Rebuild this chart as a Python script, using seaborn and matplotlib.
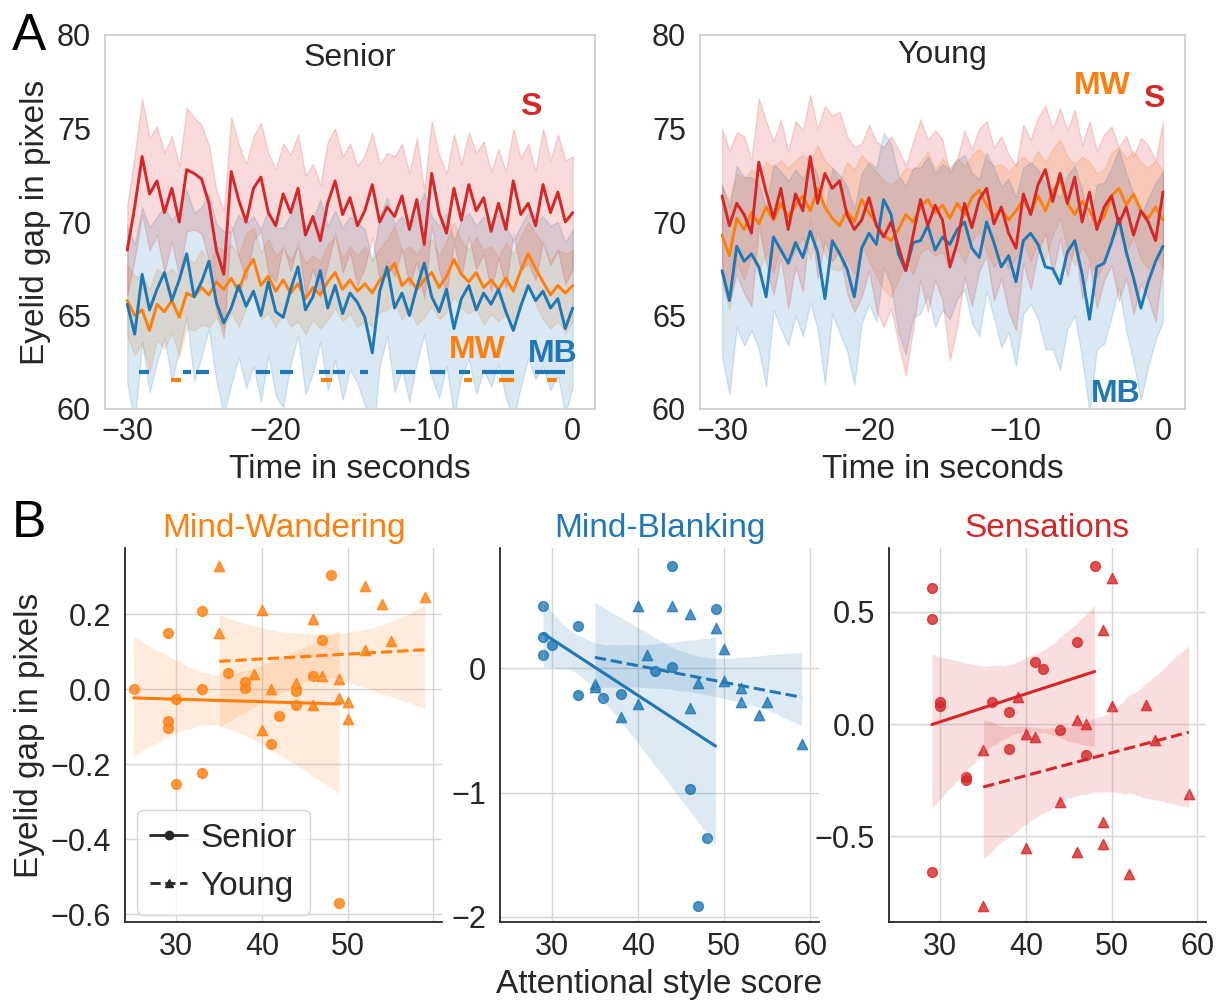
import numpy as np
import matplotlib
matplotlib.use("Agg")
import matplotlib.pyplot as plt
from matplotlib.lines import Line2D
import seaborn as sns

ORANGE = "#ff7f0e"
BLUE = "#1f77b4"
RED = "#d62728"

# ---------------- Panel A data (sampled every 0.5 s from -30 to 0) ----------------
TIME = np.arange(-30.0, 0.001, 0.5)

senior_S_mean = [68.5, 70.8, 73.5, 71.5, 72.2, 70.5, 71.8, 70.0, 72.8, 72.6, 72.3, 71.0, 68.5, 67.2, 72.7,
                 71.2, 70.0, 71.8, 72.4, 70.5, 69.8, 71.5, 70.5, 71.8, 69.3, 70.3, 69.0, 71.0, 72.2, 70.4,
                 71.3, 69.8, 70.6, 72.0, 70.0, 70.8, 70.3, 71.4, 69.6, 71.2, 68.8, 72.6, 70.5, 69.4, 71.8,
                 70.1, 72.0, 70.6, 71.3, 69.5, 71.0, 69.6, 72.2, 70.4, 71.0, 69.8, 72.0, 70.5, 71.6, 70.0, 70.5]
senior_S_hw = [2.4, 2.8, 3.1, 3.0, 2.9, 3.2, 2.8, 3.0, 3.3, 3.0, 2.9, 3.1, 3.2, 3.4, 2.9, 3.0, 3.1, 2.8, 2.9,
               3.2, 3.0, 2.7, 3.1, 2.9, 3.2, 2.8, 3.0, 3.3, 2.8, 3.1, 2.9, 3.2, 3.0, 2.8, 3.1, 2.9, 3.2, 2.8,
               3.0, 3.3, 2.9, 2.8, 3.1, 3.2, 2.9, 3.0, 2.8, 3.1, 3.0, 3.2, 2.9, 3.1, 2.8, 3.0, 3.2, 2.9, 3.0,
               2.8, 3.1, 3.3, 3.0]

senior_MW_mean = [65.8, 65.0, 65.3, 64.2, 65.6, 65.2, 65.8, 64.9, 66.2, 66.0, 66.5, 66.1, 66.8, 66.4, 67.0,
                  66.3, 67.4, 68.0, 66.6, 67.1, 66.3, 66.9, 66.2, 66.7, 65.9, 66.5, 66.1, 66.8, 67.3, 66.4,
                  66.9, 66.3, 66.7, 66.2, 66.9, 67.2, 67.8, 66.6, 67.0, 66.4, 66.9, 67.3, 66.5, 67.1, 68.0,
                  67.2, 66.8, 67.3, 66.5, 66.9, 66.4, 67.0, 66.3, 67.4, 68.3, 67.5, 66.8, 66.1, 66.6, 66.2, 66.6]
senior_MW_hw = [1.9, 2.1, 1.8, 2.2, 1.9, 2.0, 1.7, 2.1, 1.9, 1.8, 2.0, 1.7, 1.9, 2.1, 1.8, 1.9, 2.0, 1.7,
                1.8, 2.0, 1.9, 1.7, 1.8, 2.0, 1.9, 1.7, 1.8, 2.0, 1.9, 1.7, 1.8, 1.9, 2.0, 1.8, 1.7, 1.9,
                2.0, 1.8, 1.7, 1.9, 2.0, 1.8, 1.7, 1.9, 2.0, 1.8, 1.7, 1.9, 2.0, 1.8, 1.7, 1.9, 2.0, 1.8,
                1.7, 1.9, 2.0, 1.8, 1.9, 2.1, 1.9]

senior_MB_mean = [65.6, 64.0, 67.2, 65.3, 66.4, 67.3, 65.8, 66.9, 68.3, 66.0, 66.8, 67.9, 65.7, 64.6, 65.4,
                  66.6, 65.5, 66.3, 65.0, 66.8, 65.2, 64.9, 66.4, 67.6, 65.3, 66.0, 67.4, 65.4, 66.6, 65.1,
                  66.2, 65.7, 64.9, 63.0, 66.3, 67.6, 65.4, 66.2, 65.0, 66.5, 67.8, 66.0, 65.2, 66.4, 64.3,
                  65.9, 66.6, 65.3, 66.2, 65.6, 66.4, 65.2, 64.2, 65.5, 66.6, 65.8, 66.3, 65.4, 65.9, 64.3, 65.4]
senior_MB_hw = [4.2, 4.8, 3.6, 4.4, 3.9, 3.5, 4.3, 3.8, 3.4, 4.5, 4.0, 3.6, 4.2, 4.9, 4.1, 3.8, 4.4, 4.0,
                4.6, 3.9, 4.5, 4.8, 4.0, 3.7, 4.5, 4.1, 3.8, 4.4, 4.0, 4.6, 4.1, 4.3, 4.7, 4.9, 4.0, 3.7,
                4.5, 4.1, 4.6, 4.0, 3.8, 4.3, 4.6, 4.1, 4.7, 4.2, 3.9, 4.5, 4.1, 4.4, 4.0, 4.6, 4.8, 4.3,
                3.9, 4.2, 4.0, 4.4, 4.1, 4.6, 4.2]

young_S_mean = [71.4, 69.8, 71.0, 70.4, 69.4, 73.2, 71.6, 70.2, 71.8, 69.6, 71.5, 70.6, 73.5, 71.0, 72.6,
                71.8, 72.2, 70.4, 69.6, 70.1, 71.3, 69.8, 69.2, 70.0, 68.7, 67.4, 69.3, 71.2, 69.8, 70.9,
                70.1, 67.6, 68.9, 71.0, 69.7, 71.2, 71.8, 69.9, 70.8, 69.4, 68.6, 71.5, 70.4, 72.0, 72.8,
                71.1, 72.6, 71.0, 72.4, 70.0, 71.6, 69.6, 70.8, 71.4, 69.9, 70.8, 69.3, 70.6, 70.0, 69.0, 71.6]
young_S_hw = [3.6, 4.0, 3.8, 4.2, 3.9, 3.4, 3.8, 4.1, 3.7, 4.2, 3.9, 4.3, 3.3, 4.0, 3.6, 3.9, 3.7, 4.2,
              4.4, 4.1, 3.9, 4.5, 4.8, 4.6, 5.2, 5.6, 5.0, 4.3, 4.6, 4.0, 4.3, 5.0, 4.5, 3.9, 4.2, 3.8,
              3.6, 4.1, 3.8, 4.2, 4.4, 3.7, 4.0, 3.6, 3.4, 3.9, 3.5, 3.9, 3.6, 4.1, 3.8, 4.2, 3.9, 3.7,
              4.1, 3.8, 4.2, 3.9, 4.1, 4.3, 3.8]

young_MW_mean = [69.3, 68.2, 70.2, 69.6, 70.5, 69.9, 70.8, 70.1, 71.0, 70.3, 70.9, 71.4, 70.6, 71.8, 70.8,
                 70.2, 69.8, 70.6, 70.0, 71.2, 70.5, 69.9, 69.3, 69.0, 69.6, 70.4, 70.0, 70.8, 71.2, 70.5,
                 70.9, 70.2, 71.0, 70.4, 71.3, 71.7, 70.9, 70.3, 70.7, 70.1, 70.6, 71.2, 70.5, 71.4, 70.6,
                 71.6, 72.3, 71.0, 70.4, 71.1, 70.6, 69.8, 70.3, 71.4, 71.8, 70.9, 71.5, 70.6, 70.2, 70.8, 70.1]
young_MW_hw = [2.6, 2.9, 2.4, 2.7, 2.3, 2.6, 2.4, 2.8, 2.3, 2.6, 2.4, 2.2, 2.6, 2.3, 2.5, 2.7, 2.4, 2.6,
               2.8, 2.4, 2.6, 2.8, 2.9, 3.0, 2.7, 2.5, 2.8, 2.4, 2.6, 2.3, 2.5, 2.7, 2.4, 2.6, 2.3, 2.2,
               2.5, 2.7, 2.4, 2.6, 2.5, 2.3, 2.6, 2.4, 2.6, 2.3, 2.1, 2.5, 2.7, 2.4, 2.6, 2.8, 2.5, 2.3,
               2.2, 2.5, 2.3, 2.6, 2.7, 2.5, 2.6]

young_MB_mean = [67.4, 65.8, 68.7, 67.9, 68.3, 67.6, 66.0, 69.2, 68.5, 67.8, 68.9, 68.1, 69.5, 68.4, 65.9,
                 69.0, 68.3, 67.5, 66.0, 68.6, 69.4, 68.8, 71.2, 70.4, 68.3, 67.4, 68.9, 69.0, 69.8, 68.5,
                 69.2, 68.8, 69.6, 70.0, 68.6, 68.1, 70.0, 68.9, 67.6, 68.2, 66.8, 69.0, 69.4, 68.8, 67.6,
                 67.5, 66.7, 68.4, 69.0, 67.2, 64.8, 67.6, 67.8, 68.9, 70.2, 68.4, 67.0, 65.4, 66.8, 67.9, 68.7]
young_MB_hw = [4.6, 5.0, 4.3, 4.5, 4.1, 4.4, 4.8, 3.9, 4.2, 4.4, 3.9, 4.2, 3.8, 4.1, 4.6, 3.9, 4.2, 4.4,
               4.7, 4.0, 3.8, 4.1, 3.6, 3.8, 4.2, 4.5, 4.0, 3.9, 3.7, 4.1, 3.9, 4.0, 3.7, 3.6, 4.0, 4.2,
               3.7, 4.0, 4.3, 4.1, 4.5, 3.9, 3.8, 4.0, 4.4, 4.3, 4.6, 4.1, 4.0, 4.5, 5.0, 4.4, 4.3, 4.0,
               3.7, 4.2, 4.5, 4.9, 4.5, 4.2, 4.0]

# significance segments (start, end) in seconds, Senior group
sig_MB_senior = [(-29.24, -28.51), (-26.22, -25.70), (-25.36, -24.50), (-21.30, -20.40), (-19.73, -18.83),
                 (-17.07, -16.35), (-16.12, -15.34), (-14.32, -13.76), (-11.89, -10.61), (-9.64, -8.58),
                 (-7.68, -6.89), (-6.11, -3.97), (-2.51, -0.49)]
sig_MW_senior = [(-27.05, -26.38), (-16.92, -16.24), (-7.34, -6.78), (-4.98, -3.97), (-1.72, -1.05)]
SIG_LEVEL_MB = 61.98
SIG_LEVEL_MW = 61.55

# ---------------- Panel B data ----------------
mw_senior_x = [25, 29, 33, 33, 30, 29, 29, 30, 33, 36, 38, 38, 42, 41, 44, 44, 46, 47, 48, 49]
mw_senior_y = [0.00, 0.15, 0.21, 0.00, -0.026, -0.084, -0.102, -0.254, -0.223, 0.044, 0.019, 0.003,
               -0.07, -0.146, -0.004, -0.042, 0.035, 0.132, 0.304, -0.571]
mw_young_x = [35, 35, 40, 39, 41, 40, 44, 46, 46, 47, 49, 49, 50, 50, 52, 52, 54, 55, 59]
mw_young_y = [0.328, 0.15, 0.212, 0.04, 0.0, -0.108, 0.018, 0.187, -0.041, 0.035, 0.028, -0.022,
              -0.033, -0.079, 0.275, 0.104, 0.228, 0.128, 0.247]

mb_senior_x = [29, 29, 30, 29, 33, 33, 36, 38, 42, 44, 44, 46, 48, 47, 49]
mb_senior_y = [0.50, 0.255, 0.188, 0.105, 0.34, -0.214, -0.236, -0.209, -0.021, 0.826, 0.013, -0.97,
               -1.367, -1.91, 0.475]
mb_young_x = [40, 41, 35, 35, 38, 40, 44, 46, 47, 46, 49, 50, 50, 52, 52, 54, 55, 59]
mb_young_y = [0.50, 0.107, -0.126, -0.15, -0.389, -0.287, 0.50, 0.437, -0.115, -0.316, 0.327, 0.155,
              -0.099, -0.155, -0.27, -0.378, -0.268, -0.609]

s_senior_x = [29, 29, 29, 30, 30, 33, 33, 36, 38, 38, 41, 42, 44, 46, 47, 48]
s_senior_y = [0.606, 0.469, -0.659, 0.098, 0.083, -0.236, -0.248, 0.098, 0.053, -0.111, 0.276, 0.245,
              -0.025, 0.365, -0.137, 0.705]
s_young_x = [35, 35, 39, 40, 40, 41, 44, 46, 46, 47, 49, 49, 49, 50, 50, 52, 54, 55, 59]
s_young_y = [-0.114, -0.809, 0.123, -0.045, -0.552, -0.055, -0.347, 0.019, -0.567, 0.0, 0.42, -0.434,
             -0.533, 0.653, 0.079, -0.667, 0.086, -0.07, -0.31]

# ---------------- Style ----------------
sns.set_theme(style="whitegrid")
plt.rcParams["font.family"] = ["Liberation Sans", "DejaVu Sans"]
plt.rcParams["axes.unicode_minus"] = True
TXT = "#262626"

fig = plt.figure(figsize=(12.26, 10.01), dpi=100)
W, H = 1226.0, 1001.0


def add_ax(l, t, r, b):
    return fig.add_axes([l / W, 1 - b / H, (r - l) / W, (b - t) / H])


axA1 = add_ax(105, 35, 595, 409)
axA2 = add_ax(700, 35, 1185, 409)
axB1 = add_ax(125, 548, 442, 922)
axB2 = add_ax(500, 548, 819, 922)
axB3 = add_ax(889, 548, 1206, 922)


def draw_timecourse(ax, series):
    for mean, hw, color in series:
        mean = np.asarray(mean, float)
        hw = np.asarray(hw, float)
        n = min(len(mean), len(hw), len(TIME))
        t = TIME[:n]
        ax.fill_between(t, mean[:n] - hw[:n], mean[:n] + hw[:n], color=color, alpha=0.17, lw=1)
        sns.lineplot(x=t, y=mean[:n], color=color, lw=2.1, ax=ax)


draw_timecourse(axA1, [(senior_MW_mean, senior_MW_hw, ORANGE),
                       (senior_MB_mean, senior_MB_hw, BLUE),
                       (senior_S_mean, senior_S_hw, RED)])
draw_timecourse(axA2, [(young_MW_mean, young_MW_hw, ORANGE),
                       (young_MB_mean, young_MB_hw, BLUE),
                       (young_S_mean, young_S_hw, RED)])

axA1.hlines([SIG_LEVEL_MB] * len(sig_MB_senior), [s for s, e in sig_MB_senior], [e for s, e in sig_MB_senior],
            color=BLUE, lw=3, zorder=5)
axA1.hlines([SIG_LEVEL_MW] * len(sig_MW_senior), [s for s, e in sig_MW_senior], [e for s, e in sig_MW_senior],
            color=ORANGE, lw=3, zorder=5)

for ax, title, ty in [(axA1, "Senior", 0.917), (axA2, "Young", 0.925)]:
    ax.grid(False)
    ax.set_xlim(-31.5, 1.5)
    ax.set_ylim(60, 80)
    ax.set_xticks([-30, -20, -10, 0])
    ax.set_yticks([60, 65, 70, 75, 80])
    ax.tick_params(labelsize=22, length=0, colors=TXT)
    ax.tick_params(axis="x", pad=6)
    ax.tick_params(axis="y", pad=10)
    for sp in ax.spines.values():
        sp.set_visible(True)
        sp.set_color("#cccccc")
        sp.set_linewidth(1.2)
    ax.set_xlabel("Time in seconds", fontsize=24, color=TXT, labelpad=5)
    ax.set_ylabel("")
    ax.text(0.5, ty, title, transform=ax.transAxes, ha="center", va="baseline", fontsize=23, color=TXT)

axA1.set_ylabel("Eyelid gap in pixels", fontsize=24, color=TXT)

lab_kw = dict(ha="center", va="baseline", fontsize=23, fontweight="bold")
axA1.text(-2.84, 75.72, "S", color=RED, **lab_kw)
axA1.text(-6.42, 62.73, "MW", color=ORANGE, **lab_kw)
axA1.text(-1.32, 62.51, "MB", color=BLUE, **lab_kw)
axA2.text(-4.12, 76.84, "MW", color=ORANGE, **lab_kw)
axA2.text(-0.61, 76.15, "S", color=RED, **lab_kw)
axA2.text(-3.24, 60.37, "MB", color=BLUE, **lab_kw)

# ---------------- Panel B ----------------
panels = [
    (axB1, "Mind-Wandering", ORANGE, mw_senior_x, mw_senior_y, mw_young_x, mw_young_y, (-0.621, 0.377),
     [-0.6, -0.4, -0.2, 0.0, 0.2], ["−0.6", "−0.4", "−0.2", "0.0", "0.2"]),
    (axB2, "Mind-Blanking", BLUE, mb_senior_x, mb_senior_y, mb_young_x, mb_young_y, (-2.041, 0.968),
     [-2, -1, 0], ["−2", "−1", "0"]),
    (axB3, "Sensations", RED, s_senior_x, s_senior_y, s_young_x, s_young_y, (-0.881, 0.785),
     [-0.5, 0.0, 0.5], ["−0.5", "0.0", "0.5"]),
]

for ax, title, color, sx, sy, yx, yy, ylim, yt, ytl in panels:
    sns.regplot(x=np.array(sx, float), y=np.array(sy, float), ax=ax, color=color, marker="o",
                scatter_kws=dict(s=50, alpha=0.8), line_kws=dict(lw=2.2), seed=1)
    sns.regplot(x=np.array(yx, float), y=np.array(yy, float), ax=ax, color=color, marker="^",
                scatter_kws=dict(s=55, alpha=0.8), line_kws=dict(lw=2.2, ls="--"), seed=2)
    ax.set_xlim(24, 61)
    ax.set_ylim(*ylim)
    ax.set_xticks([30, 40, 50, 60])
    ax.set_yticks(yt)
    ax.set_yticklabels(ytl)
    ax.set_title(title, color=color, fontsize=24, pad=8)
    ax.tick_params(labelsize=22, length=0, colors=TXT)
    ax.tick_params(axis="x", pad=7)
    ax.tick_params(axis="y", pad=10)
    ax.grid(True, color="#d5d5d5", lw=1)
    for side in ["top", "right"]:
        ax.spines[side].set_visible(False)
    for side in ["left", "bottom"]:
        ax.spines[side].set_color(TXT)
        ax.spines[side].set_linewidth(1.3)
    ax.set_xlabel("")
    ax.set_ylabel("")

axB1.set_xticklabels(["30", "40", "50", ""])
axB1.set_ylabel("Eyelid gap in pixels", fontsize=24, color=TXT)
axB2.set_xlabel("Attentional style score", fontsize=24, color=TXT, labelpad=5)

handles = [Line2D([], [], color=TXT, lw=2, ls="-", marker="o", markersize=6),
           Line2D([], [], color=TXT, lw=2, ls="--", marker="^", markersize=6)]
axB1.legend(handles, ["Senior", "Young"], loc="lower left", bbox_to_anchor=(0.038, 0.019),
            borderaxespad=0, fontsize=24, handlelength=1.1, handletextpad=0.4, frameon=True,
            labelcolor=TXT)

fig.text(12 / W, 1 - 50 / H, "A", fontsize=37, color="black", ha="left", va="baseline")
fig.text(12 / W, 1 - 537 / H, "B", fontsize=37, color="black", ha="left", va="baseline")

fig.savefig("out.png", dpi=100)
